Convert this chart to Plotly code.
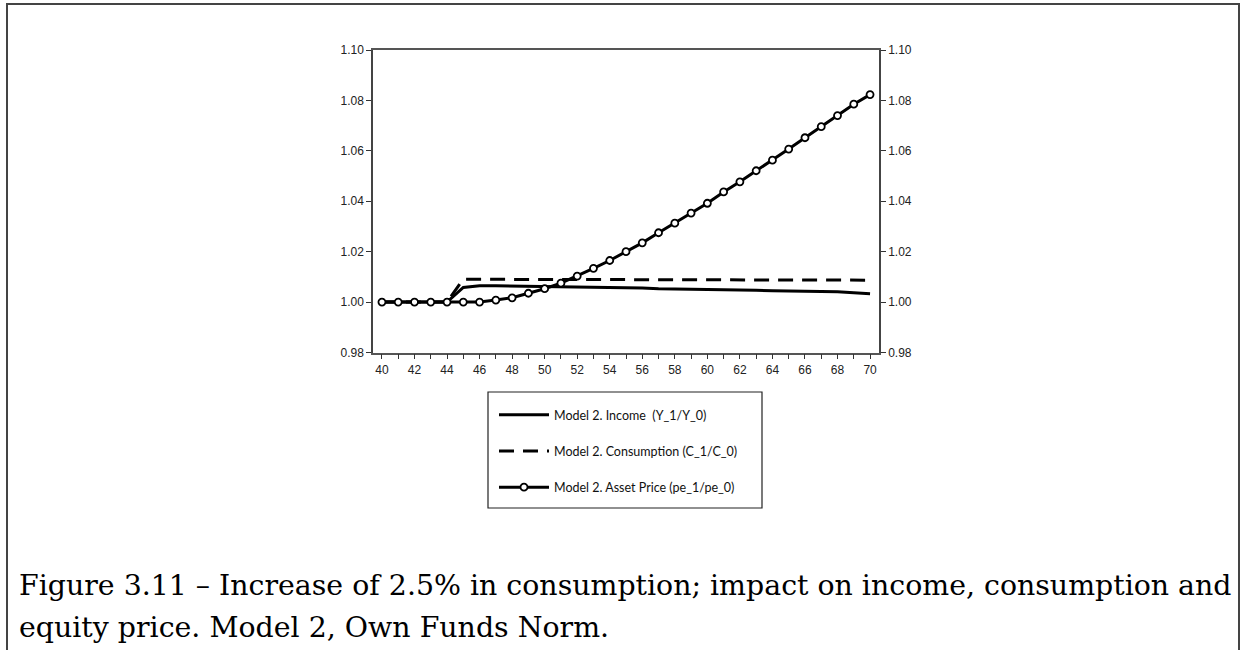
import plotly.graph_objects as go

W, H = 1244, 650

years = list(range(40, 71))

income = [
    1.0, 1.0, 1.0, 1.0, 1.0,
    1.0058, 1.0065, 1.0065, 1.0064, 1.0063, 1.0062, 1.0061, 1.0060, 1.0059, 1.0059,
    1.0058, 1.0056, 1.0053, 1.0052, 1.0052, 1.0052, 1.0051, 1.0050, 1.0047, 1.0045,
    1.0045, 1.0043, 1.0042, 1.0041, 1.0037, 1.0033,
]

consumption = [
    1.0, 1.0, 1.0, 1.0, 1.0,
    1.0091, 1.0090, 1.0090, 1.0090, 1.0090, 1.0090, 1.0090, 1.0090, 1.0090, 1.0090,
    1.0090, 1.0088, 1.0088, 1.0088, 1.0088, 1.0088, 1.0088, 1.0088, 1.0087, 1.0087,
    1.0087, 1.0087, 1.0087, 1.0087, 1.0087, 1.0087,
]

asset_price = [
    1.0, 1.0, 1.0, 1.0, 1.0, 1.0, 1.0,
    1.0008, 1.0017, 1.0035, 1.0053, 1.0075, 1.0103, 1.0134, 1.0165, 1.0200,
    1.0235, 1.0275, 1.0313, 1.0353, 1.0392, 1.0437, 1.0477, 1.0521, 1.0563,
    1.0607, 1.0652, 1.0696, 1.0740, 1.0785, 1.0823,
]

y_ticks = [0.98, 1.00, 1.02, 1.04, 1.06, 1.08, 1.10]
y_tick_text = ["0.98", "1.00", "1.02", "1.04", "1.06", "1.08", "1.10"]

names = [
    "Model 2. Income  (Y_1/Y_0)",
    "Model 2. Consumption (C_1/C_0)",
    "Model 2. Asset Price (pe_1/pe_0)",
]

caption_1 = "Figure 3.11 – Increase of 2.5% in consumption; impact on income, consumption and"
caption_2 = "equity price. Model 2, Own Funds Norm."


def px_x(v):
    return v / W


def px_y(v):
    return 1 - v / H


fig = go.Figure()

fig.add_trace(go.Scatter(
    x=years, y=income, mode="lines", name=names[0], legendgroup="a",
    line=dict(color="black", width=3),
))
fig.add_trace(go.Scatter(
    x=years, y=consumption, mode="lines", name=names[1], legendgroup="b",
    line=dict(color="black", width=3, dash="15px,9px"),
))
# asset price sits on the right-hand axis (same scale) so that axis gets drawn
fig.add_trace(go.Scatter(
    x=years, y=asset_price, mode="lines+markers", name=names[2], legendgroup="c",
    yaxis="y2",
    line=dict(color="black", width=3),
    marker=dict(symbol="circle", size=7, color="white",
                line=dict(color="black", width=1.8)),
))

axis_font = dict(family="Liberation Sans, Arial, sans-serif", size=12, color="#222")

fig.update_layout(
    width=W,
    height=H,
    margin=dict(l=0, r=0, t=0, b=0, autoexpand=False),
    paper_bgcolor="white",
    plot_bgcolor="white",
    showlegend=True,
    xaxis=dict(
        domain=[px_x(373), px_x(879)],
        range=[39.45, 70.55],
        tickmode="linear", tick0=40, dtick=2,
        ticks="outside", ticklen=5, tickcolor="#333",
        minor=dict(ticks="outside", dtick=1, tick0=40, ticklen=5, tickcolor="#333"),
        showline=True, linecolor="#555", linewidth=1.5, mirror=True,
        showgrid=False, zeroline=False, automargin=False,
        tickfont=axis_font,
    ),
    yaxis=dict(
        domain=[px_y(352.5), px_y(50)],
        range=[0.98, 1.10],
        tickvals=y_ticks, ticktext=y_tick_text,
        ticks="outside", ticklen=5, tickcolor="#333",
        showline=True, linecolor="#444", linewidth=1.5,
        showgrid=False, zeroline=False, automargin=False,
        tickfont=axis_font,
    ),
    yaxis2=dict(
        overlaying="y", side="right", anchor="x",
        range=[0.98, 1.10],
        tickvals=y_ticks, ticktext=y_tick_text,
        ticks="outside", ticklen=5, tickcolor="#333",
        showline=True, linecolor="#444", linewidth=1.5,
        showgrid=False, zeroline=False, automargin=False,
        tickfont=axis_font,
    ),
    legend=dict(
        x=px_x(494), y=px_y(400), xanchor="left", yanchor="top",
        bgcolor="rgba(0,0,0,0)", borderwidth=0,
        itemwidth=50, tracegroupgap=17,
        font=dict(family="Lato, sans-serif", size=12.5, color="#111"),
    ),
)

# legend frame
fig.add_shape(type="rect", xref="paper", yref="paper",
              x0=px_x(488), x1=px_x(762), y0=px_y(508), y1=px_y(392),
              line=dict(color="#222", width=1.2), fillcolor="rgba(0,0,0,0)")

# outer frame of the figure box
fig.add_shape(type="path", xref="paper", yref="paper",
              path=f"M {px_x(7)},-0.05 L {px_x(7)},{px_y(4)} L {px_x(1239)},{px_y(4)} L {px_x(1239)},-0.05",
              line=dict(color="#444", width=2))

cap_font = dict(family="DejaVu Serif, serif", size=28.4, color="black")
fig.add_annotation(text=caption_1, xref="paper", yref="paper",
                   x=px_x(17), y=px_y(585), xanchor="left", yanchor="middle",
                   showarrow=False, font=cap_font)
fig.add_annotation(text=caption_2, xref="paper", yref="paper",
                   x=px_x(17), y=px_y(627), xanchor="left", yanchor="middle",
                   showarrow=False, font=cap_font)

fig.write_html(
    "out.html",
    config={"displayModeBar": False},
    post_script="document.body.style.margin='0';document.body.style.padding='0';",
)
